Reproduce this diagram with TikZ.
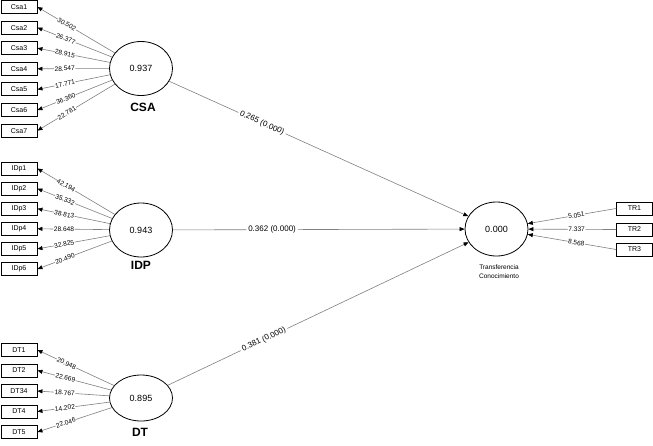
\documentclass[tikz,border=0pt]{standalone}
\usepackage{fontspec}
\setmainfont{Liberation Sans}
\usetikzlibrary{shapes.geometric,arrows.meta}
\begin{document}
\begin{tikzpicture}[x=1pt,y=-1pt,
 ind/.style={draw=black, line width=0.9pt, minimum width=36pt, minimum height=13pt, inner sep=0pt, font=\fontsize{7}{8}\selectfont},
 lv/.style={draw=black, line width=0.8pt, ellipse, minimum width=63pt, minimum height=54pt, inner sep=0pt, font=\fontsize{9}{10}\selectfont},
 lvname/.style={font=\fontsize{12}{14}\selectfont\bfseries, inner sep=0pt},
 conn/.style={draw=black!50, line width=0.6pt, -{Triangle[length=5pt,width=4pt,color=black]}},
 lab/.style={fill=white, inner sep=0.5pt, sloped, font=\fontsize{6.6}{8}\selectfont},
 plab/.style={fill=white, inner sep=2pt, sloped, font=\fontsize{8}{9}\selectfont},
 small/.style={font=\fontsize{6.5}{9}\selectfont, align=center, inner sep=0pt},
]
\useasboundingbox (0,0) rectangle (653,445);

% CSA block
\node[lv] (csa) at (141,68.5) {0.937};
\node[lvname] (csaN) at (143,107) {CSA};
\node[ind] (c1) at (19,7) {Csa1};
\node[ind] (c2) at (19,27.6) {Csa2};
\node[ind] (c3) at (19,48.2) {Csa3};
\node[ind] (c4) at (19,68.8) {Csa4};
\node[ind] (c5) at (19,89.4) {Csa5};
\node[ind] (c6) at (19,110) {Csa6};
\node[ind] (c7) at (19,130.6) {Csa7};
\draw[conn] (csa) -- node[lab,pos=0.62]{30.502} (c1.east);
\draw[conn] (csa) -- node[lab,pos=0.62]{26.377} (c2.east);
\draw[conn] (csa) -- node[lab,pos=0.62]{28.915} (c3.east);
\draw[conn] (csa) -- node[lab,pos=0.62]{28.547} (c4.east);
\draw[conn] (csa) -- node[lab,pos=0.62]{17.771} (c5.east);
\draw[conn] (csa) -- node[lab,pos=0.62]{36.360} (c6.east);
\draw[conn] (csa) -- node[lab,pos=0.62]{22.781} (c7.east);

% IDP block
\node[lv] (idp) at (141,230) {0.943};
\node[lvname] (idpN) at (141,265) {IDP};
\node[ind] (i1) at (19,168.5) {IDp1};
\node[ind] (i2) at (19,188.6) {IDp2};
\node[ind] (i3) at (19,208.7) {IDp3};
\node[ind] (i4) at (19,228.8) {IDp4};
\node[ind] (i5) at (19,248.9) {IDp5};
\node[ind] (i6) at (19,269) {IDp6};
\draw[conn] (idp) -- node[lab,pos=0.63]{42.194} (i1.east);
\draw[conn] (idp) -- node[lab,pos=0.63]{35.332} (i2.east);
\draw[conn] (idp) -- node[lab,pos=0.63]{38.813} (i3.east);
\draw[conn] (idp) -- node[lab,pos=0.63]{28.648} (i4.east);
\draw[conn] (idp) -- node[lab,pos=0.63]{32.825} (i5.east);
\draw[conn] (idp) -- node[lab,pos=0.63]{20.490} (i6.east);

% DT block
\node[lv, minimum height=46pt] (dt) at (141,398) {0.895};
\node[lvname] (dtN) at (140,432) {DT};
\node[ind] (d1) at (19,350) {DT1};
\node[ind] (d2) at (19,370.5) {DT2};
\node[ind] (d3) at (19,391) {DT34};
\node[ind] (d4) at (19,411.5) {DT4};
\node[ind] (d5) at (19,432) {DT5};
\draw[conn] (dt) -- node[lab,pos=0.62]{20.948} (d1.east);
\draw[conn] (dt) -- node[lab,pos=0.62]{22.669} (d2.east);
\draw[conn] (dt) -- node[lab,pos=0.62]{18.767} (d3.east);
\draw[conn] (dt) -- node[lab,pos=0.62]{14.202} (d4.east);
\draw[conn] (dt) -- node[lab,pos=0.62]{22.046} (d5.east);

% Target
\node[lv] (tc) at (496.5,229) {0.000};
\node[small] (tcN) at (499,272) {Transferencia\\Conocimiento};
\node[ind] (t1) at (634.5,208.5) {TR1};
\node[ind] (t2) at (634.5,229.5) {TR2};
\node[ind] (t3) at (634.5,249.5) {TR3};
\draw[conn] (t1.west) -- node[lab,pos=0.45]{5.051} (tc);
\draw[conn] (t2.west) -- node[lab,pos=0.45]{7.337} (tc);
\draw[conn] (t3.west) -- node[lab,pos=0.45]{8.568} (tc);

% Structural paths
\draw[conn] (csa) -- node[plab,pos=0.31]{0.265 (0.000)} (tc);
\draw[conn] (idp) -- node[plab,pos=0.34]{0.362 (0.000)} (tc);
\draw[conn] (dt) -- node[plab,pos=0.32]{0.381 (0.000)} (tc);
\end{tikzpicture}
\end{document}
